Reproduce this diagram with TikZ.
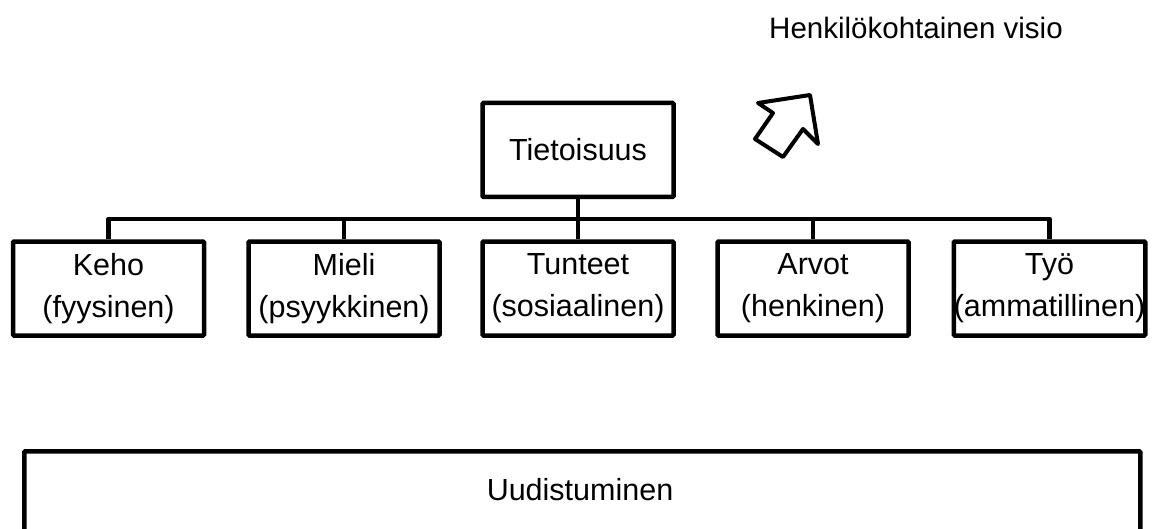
\documentclass[tikz,border=0pt]{standalone}
\usepackage{fontspec}
\setmainfont{Liberation Sans}
\usepackage{tikz}

\tikzset{
  box/.style={draw, line width=4.5pt, rounded corners=1pt, minimum width=191pt, minimum height=94pt, inner sep=0pt, align=center, font=\fontsize{30.5}{42}\selectfont},
  link/.style={line width=4.5pt, line join=round}
}

\begin{document}
\begin{tikzpicture}[x=1pt,y=-1pt]
  \useasboundingbox (0,0) rectangle (1155,529);
  \clip (0,0) rectangle (1155,529);
  % top of the tree
  \node[box] (tieto) at (578,150) {Tietoisuus};
  \coordinate (bus) at (578,219);
  % the five areas
  \node[box] (keho) at (108.5,288.5) {Keho\\(fyysinen)};
  \node[box] (mieli) at (344,288.5) {Mieli\\(psyykkinen)};
  \node[box] (tunteet) at (578,288.5) {Tunteet\\(sosiaalinen)};
  \node[box] (arvot) at (813,288.5) {Arvot\\(henkinen)};
  \node[box] (tyo) at (1049.5,288.5) {Työ\\(ammatillinen)};
  \draw[link] (tieto.south) -- (bus);
  \draw[link] (keho.north) |- (bus) -| (tyo.north);
  \draw[link] (mieli.north) -- (mieli.north |- bus);
  \draw[link] (tunteet.north) -- (tunteet.north |- bus);
  \draw[link] (arvot.north) -- (arvot.north |- bus);
  % bottom band
  \node[box, minimum width=1116pt, minimum height=92pt, anchor=north west] (uud) at (22,449) {};
  \node[font=\fontsize{30.5}{42}\selectfont] (uudtxt) at (580,490) {Uudistuminen};
  % vision
  \node[font=\fontsize{29.5}{34}\selectfont] (visio) at (916,28) {Henkilökohtainen visio};
  \draw[link, line width=4pt] (810,95) -- (758,103) -- (773,113) -- (755,139)
    -- (783,157) -- (803,129) -- (818,144) -- cycle;
\end{tikzpicture}
\end{document}
